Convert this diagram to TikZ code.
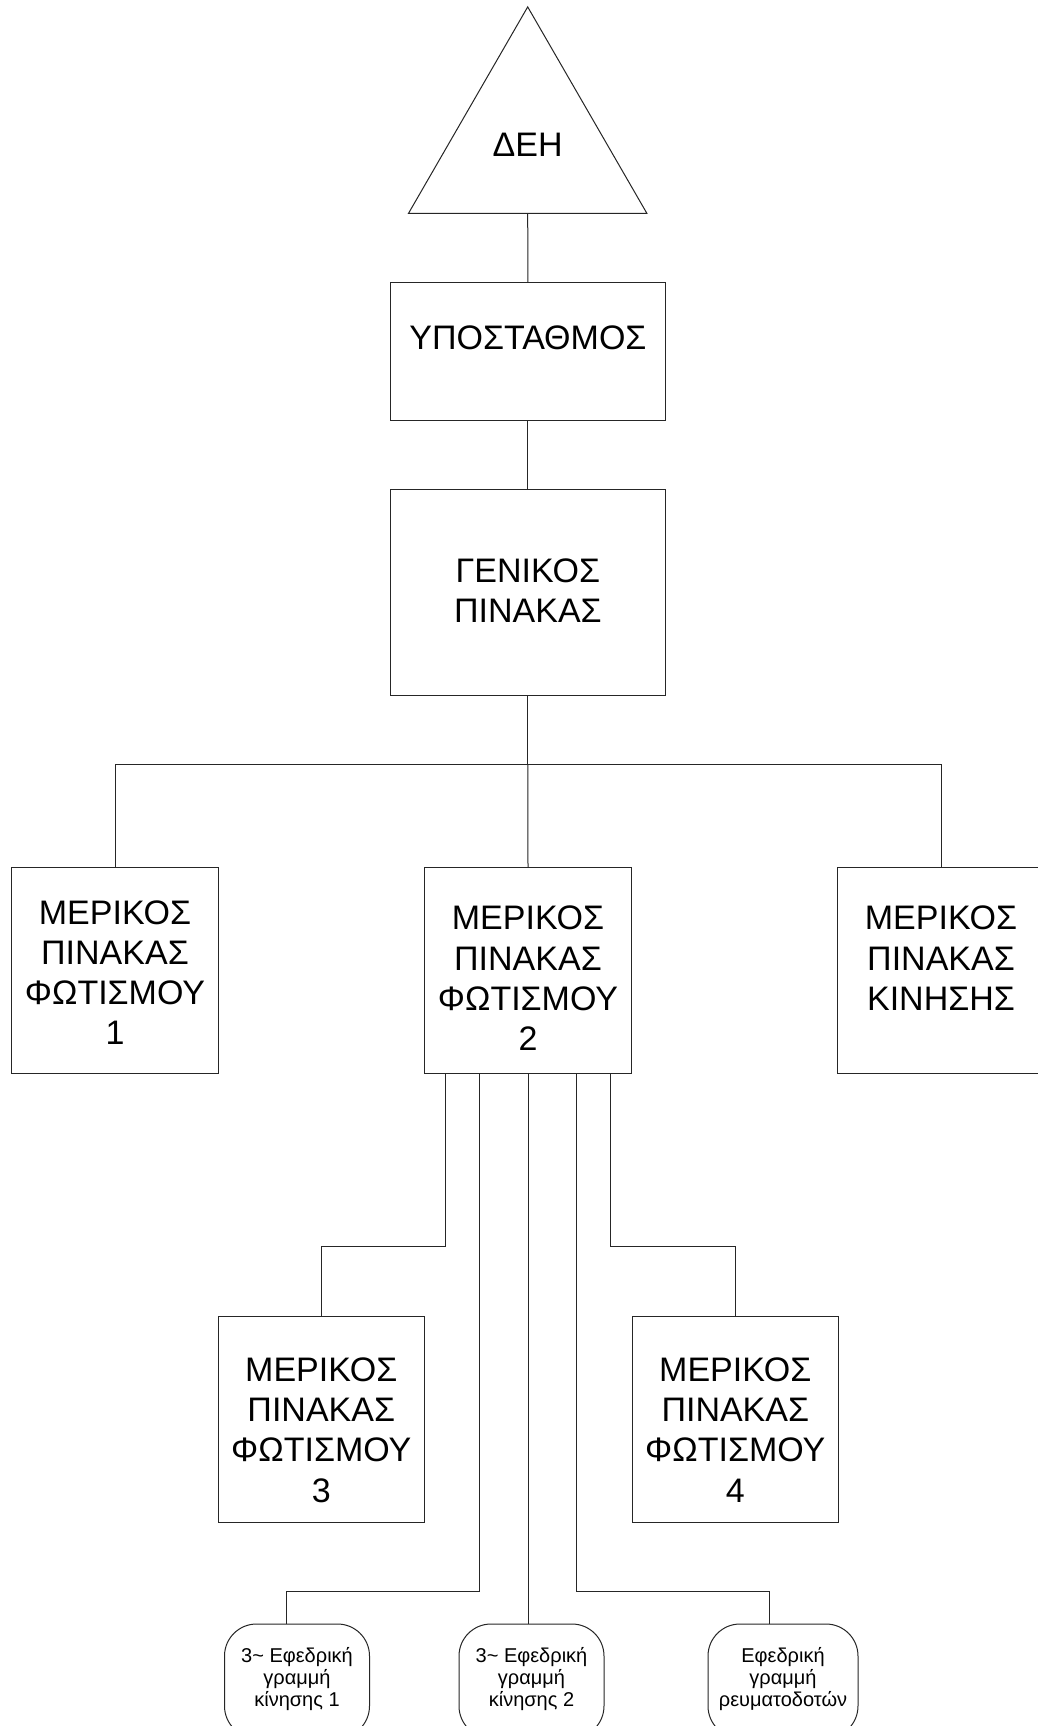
\documentclass[tikz,border=0pt]{standalone}
\usepackage{fontspec}
\setmainfont{Liberation Sans}
\usetikzlibrary{shapes.geometric,calc}
\begin{document}
\begin{tikzpicture}[x=0.5pt,y=-0.5pt,
  wire/.style={line width=0.5pt, draw=black!85},
  box/.style={draw=black!85, line width=0.5pt, rectangle, inner sep=0pt, outer sep=0pt},
  pbox/.style={box, minimum width=103.3pt, minimum height=103pt},
  rbox/.style={box, rounded corners=16pt, minimum width=72.5pt, minimum height=57pt},
  txt/.style={align=center, font=\fontsize{17}{20.1}\selectfont, inner sep=0pt},
  small/.style={align=center, font=\fontsize{10}{11.1}\selectfont, inner sep=0pt}]
\useasboundingbox (0,0) rectangle (1038,1726);
\fill[white] (0,0) rectangle (1038,1726);

% top triangle
\node[draw=black!85, line width=0.5pt, regular polygon, regular polygon sides=3,
      minimum size=137.6pt, inner sep=0pt, outer sep=0pt,
      font=\fontsize{17}{20.1}\selectfont] (deh) at (527.7,144.5) {ΔΕΗ};

% main boxes
\node[box, minimum width=137.85pt, minimum height=68.85pt] (sub) at (527.9,351.2) {};
\node[txt] (subt) at (527.9,337.5) {ΥΠΟΣΤΑΘΜΟΣ};
\node[box, minimum width=137.85pt, minimum height=102.85pt] (gen) at (527.9,592.2) {};
\node[txt] (gent) at (527.9,590.3) {ΓΕΝΙΚΟΣ\\ΠΙΝΑΚΑΣ};

\node[pbox] (p1) at (115,970.3) {};
\node[txt] (p1t) at (115,972.7) {ΜΕΡΙΚΟΣ\\ΠΙΝΑΚΑΣ\\ΦΩΤΙΣΜΟΥ\\1};
\node[pbox] (p2) at (528,970.8) {};
\node[txt] (p2t) at (528,978.3) {ΜΕΡΙΚΟΣ\\ΠΙΝΑΚΑΣ\\ΦΩΤΙΣΜΟΥ\\2};
\node[pbox] (p3) at (941,970.8) {};
\node[txt] (p3t) at (941,958.3) {ΜΕΡΙΚΟΣ\\ΠΙΝΑΚΑΣ\\ΚΙΝΗΣΗΣ};
\node[pbox] (p4) at (321.3,1419.3) {};
\node[txt] (p4t) at (321.3,1430) {ΜΕΡΙΚΟΣ\\ΠΙΝΑΚΑΣ\\ΦΩΤΙΣΜΟΥ\\3};
\node[pbox] (p5) at (735.3,1419.3) {};
\node[txt] (p5t) at (735.3,1430) {ΜΕΡΙΚΟΣ\\ΠΙΝΑΚΑΣ\\ΦΩΤΙΣΜΟΥ\\4};

% rounded boxes
\node[rbox] (r1) at (297,1681) {};
\node[small] (r1t) at (297,1679) {3\textasciitilde{} Εφεδρική\\γραμμή\\κίνησης 1};
\node[rbox] (r2) at (531.5,1681) {};
\node[small] (r2t) at (531.5,1679) {3\textasciitilde{} Εφεδρική\\γραμμή\\κίνησης 2};
\node[rbox, minimum width=75pt] (r3) at (783,1681) {};
\node[small] (r3t) at (783,1679) {Εφεδρική\\γραμμή\\ρευματοδοτών};

% connectors
\draw[wire] (deh.south) -- (sub.north);
\draw[wire] (sub.south) -- (gen.north);
\coordinate (bus) at (527.9,764);
\draw[wire] (gen.south) -- (bus) -| (p1.north);
\draw[wire] (bus) -| (p3.north);
\draw[wire] (bus) -- (p2.north);

\coordinate (fork) at (0,1246);
\coordinate (fork2) at (0,1591);
\draw[wire] ($(p2.south)+(-83,0)$) coordinate (s1) -- (s1 |- fork) -| (p4.north);
\draw[wire] ($(p2.south)+(82,0)$) coordinate (s5) -- (s5 |- fork) -| (p5.north);
\draw[wire] ($(p2.south)+(-48.5,0)$) coordinate (s2) -- (s2 |- fork2) -| ($(r1.north)+(-11,0)$);
\draw[wire] (p2.south) -- (p2.south |- r2.north);
\draw[wire] ($(p2.south)+(48,0)$) coordinate (s4) -- (s4 |- fork2) -| ($(r3.north)+(-14,0)$);
\end{tikzpicture}
\end{document}
